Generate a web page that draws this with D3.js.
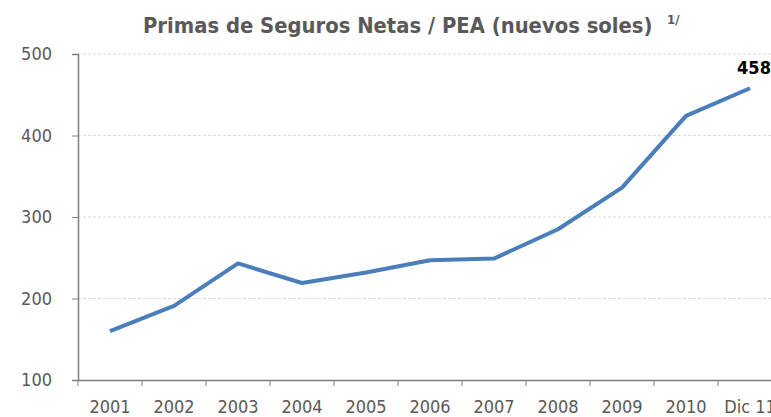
<!DOCTYPE html>
<html>
<head>
<meta charset="utf-8">
<script src="https://cdn.jsdelivr.net/npm/d3@7"></script>
<style>
  body { margin: 0; background: #fff; }
  text { font-family: "DejaVu Sans Condensed", sans-serif; }
</style>
</head>
<body>
<svg id="chart"></svg>
<script>
var categories = ["2001", "2002", "2003", "2004", "2005", "2006", "2007", "2008", "2009", "2010", "Dic 11"];
var values = [160, 191, 243, 219, 232, 247, 249, 285, 336, 424, 458];
var yTicks = [100, 200, 300, 400, 500];

var width = 771, height = 417;
var plotLeft = 78, plotTop = 54, plotBottom = 380;
var band = 64;

var svg = d3.select("#chart")
    .attr("width", width)
    .attr("height", height);

var x = d3.scaleBand()
    .domain(categories)
    .range([plotLeft, plotLeft + band * categories.length]);

var y = d3.scaleLinear()
    .domain([100, 500])
    .range([plotBottom, plotTop]);

// gridlines
svg.append("g")
    .selectAll("line")
    .data(yTicks.slice(1))
    .enter().append("line")
    .attr("x1", plotLeft)
    .attr("x2", width)
    .attr("y1", d => y(d))
    .attr("y2", d => y(d))
    .attr("stroke", "#d9d9d9")
    .attr("stroke-width", 1)
    .attr("stroke-dasharray", "3,2");

// y axis
var yAxis = svg.append("g")
    .attr("transform", "translate(" + plotLeft + ",0)")
    .call(d3.axisLeft(y).tickValues(yTicks).tickSize(6).tickPadding(20));
yAxis.selectAll("text")
    .attr("fill", "#595959")
    .style("font-size", "18px");

// x axis
var xAxis = svg.append("g")
    .attr("transform", "translate(0," + plotBottom + ")")
    .call(d3.axisBottom(x).tickSize(0).tickPadding(0));
xAxis.selectAll("text")
    .attr("dy", null)
    .attr("y", 33)
    .attr("fill", "#595959")
    .style("font-size", "18px");
xAxis.selectAll(".tick line").remove();
xAxis.selectAll(".sep")
    .data(categories)
    .enter().append("line")
    .attr("class", "sep")
    .attr("x1", d => x(d))
    .attr("x2", d => x(d))
    .attr("y1", 0)
    .attr("y2", 6)
    .attr("stroke", "#808080");

svg.selectAll(".domain")
    .attr("stroke", "#808080")
    .attr("stroke-width", 1.5);
svg.selectAll(".tick line").attr("stroke", "#808080");

// line
var line = d3.line()
    .x((d, i) => x(categories[i]) + x.bandwidth() / 2)
    .y(d => y(d));

svg.append("path")
    .datum(values)
    .attr("d", line)
    .attr("fill", "none")
    .attr("stroke", "#4a7ebb")
    .attr("stroke-width", 4)
    .attr("stroke-linejoin", "round");

// last value label
var last = values.length - 1;
svg.append("text")
    .attr("x", x(categories[last]) + x.bandwidth() / 2 + 4)
    .attr("y", y(values[last]) - 14)
    .attr("text-anchor", "middle")
    .attr("fill", "#000")
    .style("font-size", "18px")
    .style("font-weight", "bold")
    .text(values[last]);

// title
var title = svg.append("text")
    .attr("x", 143)
    .attr("y", 33)
    .attr("fill", "#595959")
    .style("font-size", "21px")
    .style("font-weight", "bold");
var mainTitle = title.append("tspan").text("Primas de Seguros Netas / PEA (nuevos soles)");
var fs = 21 * 510 / mainTitle.node().getComputedTextLength();
title.style("font-size", fs + "px");
svg.append("text")
    .attr("x", 667)
    .attr("y", 24)
    .attr("fill", "#595959")
    .style("font-size", "13px")
    .style("font-weight", "bold")
    .text("1/");
</script>
</body>
</html>
